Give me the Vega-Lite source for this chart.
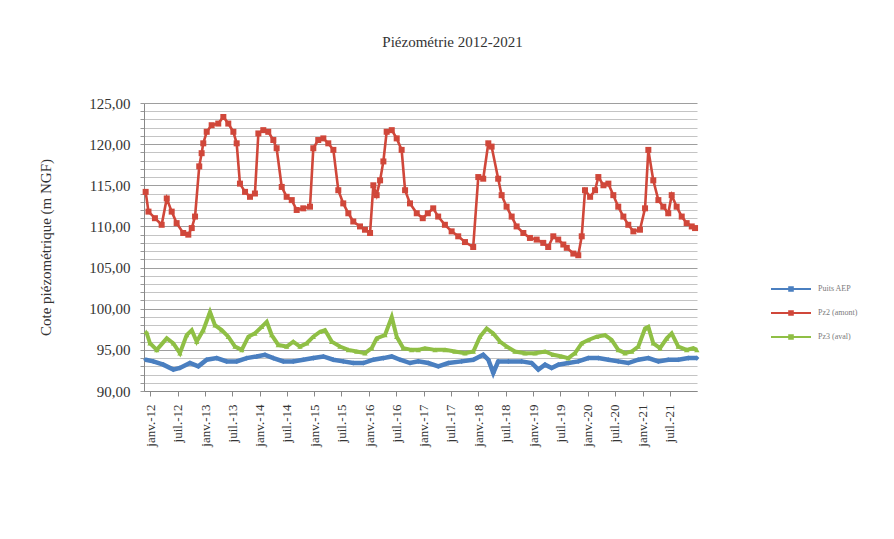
{
  "$schema": "https://vega.github.io/schema/vega-lite/v6.json",
  "autosize": {"type": "none"},
  "padding": {"left": 144, "top": 103, "right": 197, "bottom": 148},
  "width": 553,
  "height": 288,
  "background": "white",
  "config": {
    "font": "Liberation Serif",
    "view": {"stroke": null}
  },
  "title": {
    "text": "Piézométrie 2012-2021",
    "fontSize": 15,
    "fontWeight": "normal",
    "font": "Liberation Serif",
    "color": "#333333",
    "dx": 32,
    "offset": 46
  },
  "data": {
    "values": [
      {"s": "Pz2 (amont)", "date": "2011-12-01", "v": 114.2},
      {"s": "Pz2 (amont)", "date": "2011-12-20", "v": 111.8},
      {"s": "Pz2 (amont)", "date": "2012-02-01", "v": 111.0},
      {"s": "Pz2 (amont)", "date": "2012-03-17", "v": 110.2},
      {"s": "Pz2 (amont)", "date": "2012-04-20", "v": 113.4},
      {"s": "Pz2 (amont)", "date": "2012-05-23", "v": 111.8},
      {"s": "Pz2 (amont)", "date": "2012-06-25", "v": 110.4},
      {"s": "Pz2 (amont)", "date": "2012-08-08", "v": 109.2},
      {"s": "Pz2 (amont)", "date": "2012-09-11", "v": 109.0},
      {"s": "Pz2 (amont)", "date": "2012-10-04", "v": 109.8},
      {"s": "Pz2 (amont)", "date": "2012-10-26", "v": 111.2},
      {"s": "Pz2 (amont)", "date": "2012-11-23", "v": 117.3},
      {"s": "Pz2 (amont)", "date": "2012-12-09", "v": 118.9},
      {"s": "Pz2 (amont)", "date": "2012-12-20", "v": 120.1},
      {"s": "Pz2 (amont)", "date": "2013-01-12", "v": 121.5},
      {"s": "Pz2 (amont)", "date": "2013-02-14", "v": 122.3},
      {"s": "Pz2 (amont)", "date": "2013-03-30", "v": 122.5},
      {"s": "Pz2 (amont)", "date": "2013-05-03", "v": 123.3},
      {"s": "Pz2 (amont)", "date": "2013-06-05", "v": 122.5},
      {"s": "Pz2 (amont)", "date": "2013-07-09", "v": 121.5},
      {"s": "Pz2 (amont)", "date": "2013-07-31", "v": 120.1},
      {"s": "Pz2 (amont)", "date": "2013-08-22", "v": 115.2},
      {"s": "Pz2 (amont)", "date": "2013-09-25", "v": 114.2},
      {"s": "Pz2 (amont)", "date": "2013-10-28", "v": 113.6},
      {"s": "Pz2 (amont)", "date": "2013-11-30", "v": 114.0},
      {"s": "Pz2 (amont)", "date": "2013-12-23", "v": 121.3},
      {"s": "Pz2 (amont)", "date": "2014-01-25", "v": 121.7},
      {"s": "Pz2 (amont)", "date": "2014-02-27", "v": 121.5},
      {"s": "Pz2 (amont)", "date": "2014-04-02", "v": 120.5},
      {"s": "Pz2 (amont)", "date": "2014-04-24", "v": 119.5},
      {"s": "Pz2 (amont)", "date": "2014-05-28", "v": 114.8},
      {"s": "Pz2 (amont)", "date": "2014-06-30", "v": 113.6},
      {"s": "Pz2 (amont)", "date": "2014-08-03", "v": 113.2},
      {"s": "Pz2 (amont)", "date": "2014-09-05", "v": 112.0},
      {"s": "Pz2 (amont)", "date": "2014-10-19", "v": 112.2},
      {"s": "Pz2 (amont)", "date": "2014-12-03", "v": 112.4},
      {"s": "Pz2 (amont)", "date": "2014-12-25", "v": 119.5},
      {"s": "Pz2 (amont)", "date": "2015-01-27", "v": 120.5},
      {"s": "Pz2 (amont)", "date": "2015-03-02", "v": 120.7},
      {"s": "Pz2 (amont)", "date": "2015-04-04", "v": 120.1},
      {"s": "Pz2 (amont)", "date": "2015-05-08", "v": 119.3},
      {"s": "Pz2 (amont)", "date": "2015-06-10", "v": 114.4},
      {"s": "Pz2 (amont)", "date": "2015-07-13", "v": 112.8},
      {"s": "Pz2 (amont)", "date": "2015-08-16", "v": 111.6},
      {"s": "Pz2 (amont)", "date": "2015-09-18", "v": 110.6},
      {"s": "Pz2 (amont)", "date": "2015-11-02", "v": 110.0},
      {"s": "Pz2 (amont)", "date": "2015-12-05", "v": 109.6},
      {"s": "Pz2 (amont)", "date": "2016-01-08", "v": 109.2},
      {"s": "Pz2 (amont)", "date": "2016-01-30", "v": 115.0},
      {"s": "Pz2 (amont)", "date": "2016-02-21", "v": 113.8},
      {"s": "Pz2 (amont)", "date": "2016-03-15", "v": 115.6},
      {"s": "Pz2 (amont)", "date": "2016-04-06", "v": 117.9},
      {"s": "Pz2 (amont)", "date": "2016-04-28", "v": 121.5},
      {"s": "Pz2 (amont)", "date": "2016-06-01", "v": 121.7},
      {"s": "Pz2 (amont)", "date": "2016-07-04", "v": 120.7},
      {"s": "Pz2 (amont)", "date": "2016-08-06", "v": 119.3},
      {"s": "Pz2 (amont)", "date": "2016-08-29", "v": 114.4},
      {"s": "Pz2 (amont)", "date": "2016-10-01", "v": 112.8},
      {"s": "Pz2 (amont)", "date": "2016-11-15", "v": 111.6},
      {"s": "Pz2 (amont)", "date": "2016-12-25", "v": 111.0},
      {"s": "Pz2 (amont)", "date": "2017-01-28", "v": 111.6},
      {"s": "Pz2 (amont)", "date": "2017-03-05", "v": 112.2},
      {"s": "Pz2 (amont)", "date": "2017-04-07", "v": 111.2},
      {"s": "Pz2 (amont)", "date": "2017-05-22", "v": 110.2},
      {"s": "Pz2 (amont)", "date": "2017-07-06", "v": 109.4},
      {"s": "Pz2 (amont)", "date": "2017-08-19", "v": 108.8},
      {"s": "Pz2 (amont)", "date": "2017-10-03", "v": 108.1},
      {"s": "Pz2 (amont)", "date": "2017-11-27", "v": 107.5},
      {"s": "Pz2 (amont)", "date": "2017-12-31", "v": 116.0},
      {"s": "Pz2 (amont)", "date": "2018-02-02", "v": 115.8},
      {"s": "Pz2 (amont)", "date": "2018-03-08", "v": 120.1},
      {"s": "Pz2 (amont)", "date": "2018-03-30", "v": 119.7},
      {"s": "Pz2 (amont)", "date": "2018-05-13", "v": 115.8},
      {"s": "Pz2 (amont)", "date": "2018-06-05", "v": 113.8},
      {"s": "Pz2 (amont)", "date": "2018-07-08", "v": 112.4},
      {"s": "Pz2 (amont)", "date": "2018-08-11", "v": 111.2},
      {"s": "Pz2 (amont)", "date": "2018-09-13", "v": 110.0},
      {"s": "Pz2 (amont)", "date": "2018-10-28", "v": 109.2},
      {"s": "Pz2 (amont)", "date": "2018-12-11", "v": 108.6},
      {"s": "Pz2 (amont)", "date": "2019-01-25", "v": 108.4},
      {"s": "Pz2 (amont)", "date": "2019-03-10", "v": 108.0},
      {"s": "Pz2 (amont)", "date": "2019-04-12", "v": 107.5},
      {"s": "Pz2 (amont)", "date": "2019-05-16", "v": 108.8},
      {"s": "Pz2 (amont)", "date": "2019-06-18", "v": 108.4},
      {"s": "Pz2 (amont)", "date": "2019-07-22", "v": 107.8},
      {"s": "Pz2 (amont)", "date": "2019-08-14", "v": 107.4},
      {"s": "Pz2 (amont)", "date": "2019-09-27", "v": 106.7},
      {"s": "Pz2 (amont)", "date": "2019-10-30", "v": 106.5},
      {"s": "Pz2 (amont)", "date": "2019-11-22", "v": 108.8},
      {"s": "Pz2 (amont)", "date": "2019-12-14", "v": 114.4},
      {"s": "Pz2 (amont)", "date": "2020-01-17", "v": 113.6},
      {"s": "Pz2 (amont)", "date": "2020-02-19", "v": 114.4},
      {"s": "Pz2 (amont)", "date": "2020-03-12", "v": 116.0},
      {"s": "Pz2 (amont)", "date": "2020-04-15", "v": 115.0},
      {"s": "Pz2 (amont)", "date": "2020-05-18", "v": 115.2},
      {"s": "Pz2 (amont)", "date": "2020-06-20", "v": 113.8},
      {"s": "Pz2 (amont)", "date": "2020-07-23", "v": 112.4},
      {"s": "Pz2 (amont)", "date": "2020-08-26", "v": 111.2},
      {"s": "Pz2 (amont)", "date": "2020-09-28", "v": 110.2},
      {"s": "Pz2 (amont)", "date": "2020-11-01", "v": 109.4},
      {"s": "Pz2 (amont)", "date": "2020-12-15", "v": 109.6},
      {"s": "Pz2 (amont)", "date": "2021-01-18", "v": 112.2},
      {"s": "Pz2 (amont)", "date": "2021-02-09", "v": 119.3},
      {"s": "Pz2 (amont)", "date": "2021-03-14", "v": 115.6},
      {"s": "Pz2 (amont)", "date": "2021-04-17", "v": 113.2},
      {"s": "Pz2 (amont)", "date": "2021-05-20", "v": 112.4},
      {"s": "Pz2 (amont)", "date": "2021-06-22", "v": 111.6},
      {"s": "Pz2 (amont)", "date": "2021-07-15", "v": 113.8},
      {"s": "Pz2 (amont)", "date": "2021-08-17", "v": 112.4},
      {"s": "Pz2 (amont)", "date": "2021-09-20", "v": 111.2},
      {"s": "Pz2 (amont)", "date": "2021-10-23", "v": 110.4},
      {"s": "Pz2 (amont)", "date": "2021-11-26", "v": 110.0},
      {"s": "Pz2 (amont)", "date": "2021-12-18", "v": 109.8},

      {"s": "Pz3 (aval)", "date": "2011-12-05", "v": 97.2},
      {"s": "Pz3 (aval)", "date": "2011-12-30", "v": 95.8},
      {"s": "Pz3 (aval)", "date": "2012-02-13", "v": 95.0},
      {"s": "Pz3 (aval)", "date": "2012-04-20", "v": 96.4},
      {"s": "Pz3 (aval)", "date": "2012-06-03", "v": 95.8},
      {"s": "Pz3 (aval)", "date": "2012-07-17", "v": 94.6},
      {"s": "Pz3 (aval)", "date": "2012-08-31", "v": 96.8},
      {"s": "Pz3 (aval)", "date": "2012-10-04", "v": 97.4},
      {"s": "Pz3 (aval)", "date": "2012-11-06", "v": 96.0},
      {"s": "Pz3 (aval)", "date": "2012-12-20", "v": 97.4},
      {"s": "Pz3 (aval)", "date": "2013-02-03", "v": 99.6},
      {"s": "Pz3 (aval)", "date": "2013-03-08", "v": 98.0},
      {"s": "Pz3 (aval)", "date": "2013-04-22", "v": 97.4},
      {"s": "Pz3 (aval)", "date": "2013-06-05", "v": 96.6},
      {"s": "Pz3 (aval)", "date": "2013-07-20", "v": 95.4},
      {"s": "Pz3 (aval)", "date": "2013-09-03", "v": 95.0},
      {"s": "Pz3 (aval)", "date": "2013-10-17", "v": 96.6},
      {"s": "Pz3 (aval)", "date": "2013-11-30", "v": 97.0},
      {"s": "Pz3 (aval)", "date": "2014-01-14", "v": 97.8},
      {"s": "Pz3 (aval)", "date": "2014-02-17", "v": 98.4},
      {"s": "Pz3 (aval)", "date": "2014-03-22", "v": 96.8},
      {"s": "Pz3 (aval)", "date": "2014-05-05", "v": 95.6},
      {"s": "Pz3 (aval)", "date": "2014-06-30", "v": 95.4},
      {"s": "Pz3 (aval)", "date": "2014-08-13", "v": 96.0},
      {"s": "Pz3 (aval)", "date": "2014-09-27", "v": 95.4},
      {"s": "Pz3 (aval)", "date": "2014-11-11", "v": 95.8},
      {"s": "Pz3 (aval)", "date": "2014-12-25", "v": 96.6},
      {"s": "Pz3 (aval)", "date": "2015-02-08", "v": 97.2},
      {"s": "Pz3 (aval)", "date": "2015-03-13", "v": 97.4},
      {"s": "Pz3 (aval)", "date": "2015-04-27", "v": 96.0},
      {"s": "Pz3 (aval)", "date": "2015-06-21", "v": 95.4},
      {"s": "Pz3 (aval)", "date": "2015-08-16", "v": 95.0},
      {"s": "Pz3 (aval)", "date": "2015-10-11", "v": 94.8},
      {"s": "Pz3 (aval)", "date": "2015-12-05", "v": 94.6},
      {"s": "Pz3 (aval)", "date": "2016-01-19", "v": 95.2},
      {"s": "Pz3 (aval)", "date": "2016-02-21", "v": 96.4},
      {"s": "Pz3 (aval)", "date": "2016-04-17", "v": 96.8},
      {"s": "Pz3 (aval)", "date": "2016-06-01", "v": 99.0},
      {"s": "Pz3 (aval)", "date": "2016-07-04", "v": 96.6},
      {"s": "Pz3 (aval)", "date": "2016-08-17", "v": 95.2},
      {"s": "Pz3 (aval)", "date": "2016-10-12", "v": 95.0},
      {"s": "Pz3 (aval)", "date": "2016-11-25", "v": 95.0},
      {"s": "Pz3 (aval)", "date": "2017-01-09", "v": 95.2},
      {"s": "Pz3 (aval)", "date": "2017-03-17", "v": 95.0},
      {"s": "Pz3 (aval)", "date": "2017-05-23", "v": 95.0},
      {"s": "Pz3 (aval)", "date": "2017-07-28", "v": 94.8},
      {"s": "Pz3 (aval)", "date": "2017-10-03", "v": 94.6},
      {"s": "Pz3 (aval)", "date": "2017-11-28", "v": 94.8},
      {"s": "Pz3 (aval)", "date": "2018-01-11", "v": 96.6},
      {"s": "Pz3 (aval)", "date": "2018-02-25", "v": 97.6},
      {"s": "Pz3 (aval)", "date": "2018-04-10", "v": 97.0},
      {"s": "Pz3 (aval)", "date": "2018-05-25", "v": 96.0},
      {"s": "Pz3 (aval)", "date": "2018-07-09", "v": 95.4},
      {"s": "Pz3 (aval)", "date": "2018-09-02", "v": 94.8},
      {"s": "Pz3 (aval)", "date": "2018-11-08", "v": 94.6},
      {"s": "Pz3 (aval)", "date": "2019-01-14", "v": 94.6},
      {"s": "Pz3 (aval)", "date": "2019-03-22", "v": 94.8},
      {"s": "Pz3 (aval)", "date": "2019-05-16", "v": 94.4},
      {"s": "Pz3 (aval)", "date": "2019-07-11", "v": 94.2},
      {"s": "Pz3 (aval)", "date": "2019-08-24", "v": 94.0},
      {"s": "Pz3 (aval)", "date": "2019-10-08", "v": 94.6},
      {"s": "Pz3 (aval)", "date": "2019-11-22", "v": 95.8},
      {"s": "Pz3 (aval)", "date": "2020-01-05", "v": 96.2},
      {"s": "Pz3 (aval)", "date": "2020-03-01", "v": 96.6},
      {"s": "Pz3 (aval)", "date": "2020-04-26", "v": 96.8},
      {"s": "Pz3 (aval)", "date": "2020-06-09", "v": 96.2},
      {"s": "Pz3 (aval)", "date": "2020-07-23", "v": 95.0},
      {"s": "Pz3 (aval)", "date": "2020-09-06", "v": 94.6},
      {"s": "Pz3 (aval)", "date": "2020-10-21", "v": 94.8},
      {"s": "Pz3 (aval)", "date": "2020-12-04", "v": 95.4},
      {"s": "Pz3 (aval)", "date": "2021-01-18", "v": 97.6},
      {"s": "Pz3 (aval)", "date": "2021-02-09", "v": 97.8},
      {"s": "Pz3 (aval)", "date": "2021-03-14", "v": 95.8},
      {"s": "Pz3 (aval)", "date": "2021-04-28", "v": 95.2},
      {"s": "Pz3 (aval)", "date": "2021-06-12", "v": 96.4},
      {"s": "Pz3 (aval)", "date": "2021-07-15", "v": 97.0},
      {"s": "Pz3 (aval)", "date": "2021-08-28", "v": 95.4},
      {"s": "Pz3 (aval)", "date": "2021-10-23", "v": 95.0},
      {"s": "Pz3 (aval)", "date": "2021-12-06", "v": 95.2},
      {"s": "Pz3 (aval)", "date": "2021-12-30", "v": 95.0},

      {"s": "Puits AEP", "date": "2011-12-01", "v": 93.8},
      {"s": "Puits AEP", "date": "2012-01-21", "v": 93.6},
      {"s": "Puits AEP", "date": "2012-03-28", "v": 93.2},
      {"s": "Puits AEP", "date": "2012-06-03", "v": 92.6},
      {"s": "Puits AEP", "date": "2012-07-17", "v": 92.8},
      {"s": "Puits AEP", "date": "2012-09-22", "v": 93.4},
      {"s": "Puits AEP", "date": "2012-11-17", "v": 93.0},
      {"s": "Puits AEP", "date": "2013-01-12", "v": 93.8},
      {"s": "Puits AEP", "date": "2013-03-20", "v": 94.0},
      {"s": "Puits AEP", "date": "2013-05-25", "v": 93.6},
      {"s": "Puits AEP", "date": "2013-07-31", "v": 93.6},
      {"s": "Puits AEP", "date": "2013-10-06", "v": 94.0},
      {"s": "Puits AEP", "date": "2013-12-12", "v": 94.2},
      {"s": "Puits AEP", "date": "2014-02-05", "v": 94.4},
      {"s": "Puits AEP", "date": "2014-04-02", "v": 94.0},
      {"s": "Puits AEP", "date": "2014-06-08", "v": 93.6},
      {"s": "Puits AEP", "date": "2014-08-13", "v": 93.6},
      {"s": "Puits AEP", "date": "2014-10-19", "v": 93.8},
      {"s": "Puits AEP", "date": "2014-12-25", "v": 94.0},
      {"s": "Puits AEP", "date": "2015-03-02", "v": 94.2},
      {"s": "Puits AEP", "date": "2015-05-08", "v": 93.8},
      {"s": "Puits AEP", "date": "2015-07-13", "v": 93.6},
      {"s": "Puits AEP", "date": "2015-09-18", "v": 93.4},
      {"s": "Puits AEP", "date": "2015-11-24", "v": 93.4},
      {"s": "Puits AEP", "date": "2016-01-30", "v": 93.8},
      {"s": "Puits AEP", "date": "2016-04-06", "v": 94.0},
      {"s": "Puits AEP", "date": "2016-06-01", "v": 94.2},
      {"s": "Puits AEP", "date": "2016-07-26", "v": 93.8},
      {"s": "Puits AEP", "date": "2016-10-01", "v": 93.4},
      {"s": "Puits AEP", "date": "2016-11-25", "v": 93.6},
      {"s": "Puits AEP", "date": "2017-01-31", "v": 93.4},
      {"s": "Puits AEP", "date": "2017-04-08", "v": 93.0},
      {"s": "Puits AEP", "date": "2017-06-14", "v": 93.4},
      {"s": "Puits AEP", "date": "2017-09-11", "v": 93.6},
      {"s": "Puits AEP", "date": "2017-11-28", "v": 93.8},
      {"s": "Puits AEP", "date": "2018-02-02", "v": 94.4},
      {"s": "Puits AEP", "date": "2018-03-08", "v": 93.8},
      {"s": "Puits AEP", "date": "2018-04-10", "v": 92.2},
      {"s": "Puits AEP", "date": "2018-05-13", "v": 93.6},
      {"s": "Puits AEP", "date": "2018-07-20", "v": 93.6},
      {"s": "Puits AEP", "date": "2018-10-17", "v": 93.6},
      {"s": "Puits AEP", "date": "2018-12-23", "v": 93.4},
      {"s": "Puits AEP", "date": "2019-02-05", "v": 92.6},
      {"s": "Puits AEP", "date": "2019-03-22", "v": 93.2},
      {"s": "Puits AEP", "date": "2019-05-05", "v": 92.8},
      {"s": "Puits AEP", "date": "2019-06-19", "v": 93.2},
      {"s": "Puits AEP", "date": "2019-08-24", "v": 93.4},
      {"s": "Puits AEP", "date": "2019-10-30", "v": 93.6},
      {"s": "Puits AEP", "date": "2020-01-05", "v": 94.0},
      {"s": "Puits AEP", "date": "2020-03-12", "v": 94.0},
      {"s": "Puits AEP", "date": "2020-05-18", "v": 93.8},
      {"s": "Puits AEP", "date": "2020-07-23", "v": 93.6},
      {"s": "Puits AEP", "date": "2020-09-28", "v": 93.4},
      {"s": "Puits AEP", "date": "2020-12-04", "v": 93.8},
      {"s": "Puits AEP", "date": "2021-02-09", "v": 94.0},
      {"s": "Puits AEP", "date": "2021-04-17", "v": 93.6},
      {"s": "Puits AEP", "date": "2021-06-22", "v": 93.8},
      {"s": "Puits AEP", "date": "2021-08-28", "v": 93.8},
      {"s": "Puits AEP", "date": "2021-11-03", "v": 94.0},
      {"s": "Puits AEP", "date": "2021-12-30", "v": 94.0}
    ]
  },
  "encoding": {
    "x": {
      "field": "date",
      "type": "temporal",
      "scale": {
        "type": "utc",
        "domain": [
          {"year": 2011, "month": 11, "date": 20, "utc": true},
          {"year": 2021, "month": 12, "date": 31, "utc": true}
        ],
        "nice": false
      },
      "axis": {
        "title": null,
        "grid": false,
        "values": [
          {"year": 2012, "month": 1, "date": 1, "utc": true}, {"year": 2012, "month": 7, "date": 1, "utc": true},
          {"year": 2013, "month": 1, "date": 1, "utc": true}, {"year": 2013, "month": 7, "date": 1, "utc": true},
          {"year": 2014, "month": 1, "date": 1, "utc": true}, {"year": 2014, "month": 7, "date": 1, "utc": true},
          {"year": 2015, "month": 1, "date": 1, "utc": true}, {"year": 2015, "month": 7, "date": 1, "utc": true},
          {"year": 2016, "month": 1, "date": 1, "utc": true}, {"year": 2016, "month": 7, "date": 1, "utc": true},
          {"year": 2017, "month": 1, "date": 1, "utc": true}, {"year": 2017, "month": 7, "date": 1, "utc": true},
          {"year": 2018, "month": 1, "date": 1, "utc": true}, {"year": 2018, "month": 7, "date": 1, "utc": true},
          {"year": 2019, "month": 1, "date": 1, "utc": true}, {"year": 2019, "month": 7, "date": 1, "utc": true},
          {"year": 2020, "month": 1, "date": 1, "utc": true}, {"year": 2020, "month": 7, "date": 1, "utc": true},
          {"year": 2021, "month": 1, "date": 1, "utc": true}, {"year": 2021, "month": 7, "date": 1, "utc": true}
        ],
        "labelExpr": "(utcFormat(datum.value, '%m') == '01' ? 'janv.-' : 'juil.-') + utcFormat(datum.value, '%y')",
        "labelAngle": -90,
        "labelAlign": "right",
        "labelBaseline": "middle",
        "labelFontSize": 13,
        "labelColor": "#333333",
        "labelPadding": 8,
        "labelOverlap": false,
        "tickSize": 5,
        "tickColor": "#888888",
        "domainColor": "#888888",
        "domainWidth": 1
      }
    },
    "y": {
      "field": "v",
      "type": "quantitative",
      "scale": {"domain": [90, 125], "nice": false, "zero": false},
      "axis": {
        "title": "Cote piézométrique (m NGF)",
        "titleFontSize": 15,
        "titleFontWeight": "normal",
        "titleColor": "#333333",
        "titleAngle": -90,
        "titleX": -99,
        "titleY": 144,
        "titleAlign": "center",
        "titleBaseline": "middle",
        "values": [90,91,92,93,94,95,96,97,98,99,100,101,102,103,104,105,106,107,108,109,110,111,112,113,114,115,116,117,118,119,120,121,122,123,124,125],
        "labelExpr": "datum.value % 5 === 0 ? replace(format(datum.value, '.2f'), '.', ',') : ''",
        "labelFontSize": 15,
        "labelColor": "#333333",
        "labelPadding": 10,
        "labelOverlap": false,
        "tickSize": 4,
        "tickColor": "#999999",
        "domainColor": "#888888",
        "grid": true,
        "gridColor": {"condition": {"test": "datum.value % 5 === 0", "value": "#9e9e9e"}, "value": "#c4c4c4"},
        "gridWidth": 1.2
      }
    },
    "color": {
      "field": "s",
      "type": "nominal",
      "scale": {
        "domain": ["Puits AEP", "Pz2 (amont)", "Pz3 (aval)"],
        "range": ["#4a7fc0", "#d0473a", "#8fbf45"]
      },
      "legend": {
        "title": null,
        "orient": "none",
        "legendX": 626,
        "legendY": 180,
        "symbolType": "M-1,0H1M-0.09,-0.09H0.09V0.09H-0.09Z",
        "symbolSize": 1600,
        "symbolStrokeWidth": 2,
        "clipHeight": 12,
        "rowPadding": 12,
        "labelFontSize": 8,
        "labelColor": "#7a7a7a",
        "labelOffset": 6
      }
    }
  },
  "layer": [
    {
      "transform": [{"filter": "datum.s === 'Puits AEP'"}],
      "mark": {"type": "line", "strokeWidth": 4.5}
    },
    {
      "transform": [{"filter": "datum.s === 'Puits AEP'"}],
      "mark": {"type": "point", "shape": "diamond", "filled": true, "size": 26, "opacity": 1}
    },
    {
      "transform": [{"filter": "datum.s === 'Pz2 (amont)'"}],
      "mark": {"type": "line", "strokeWidth": 2.6}
    },
    {
      "transform": [{"filter": "datum.s === 'Pz2 (amont)'"}],
      "mark": {"type": "point", "shape": "square", "filled": true, "size": 36, "opacity": 1}
    },
    {
      "transform": [{"filter": "datum.s === 'Pz3 (aval)'"}],
      "mark": {"type": "line", "strokeWidth": 4}
    },
    {
      "transform": [{"filter": "datum.s === 'Pz3 (aval)'"}],
      "mark": {"type": "point", "shape": "triangle-up", "filled": true, "size": 28, "opacity": 1}
    }
  ]
}
